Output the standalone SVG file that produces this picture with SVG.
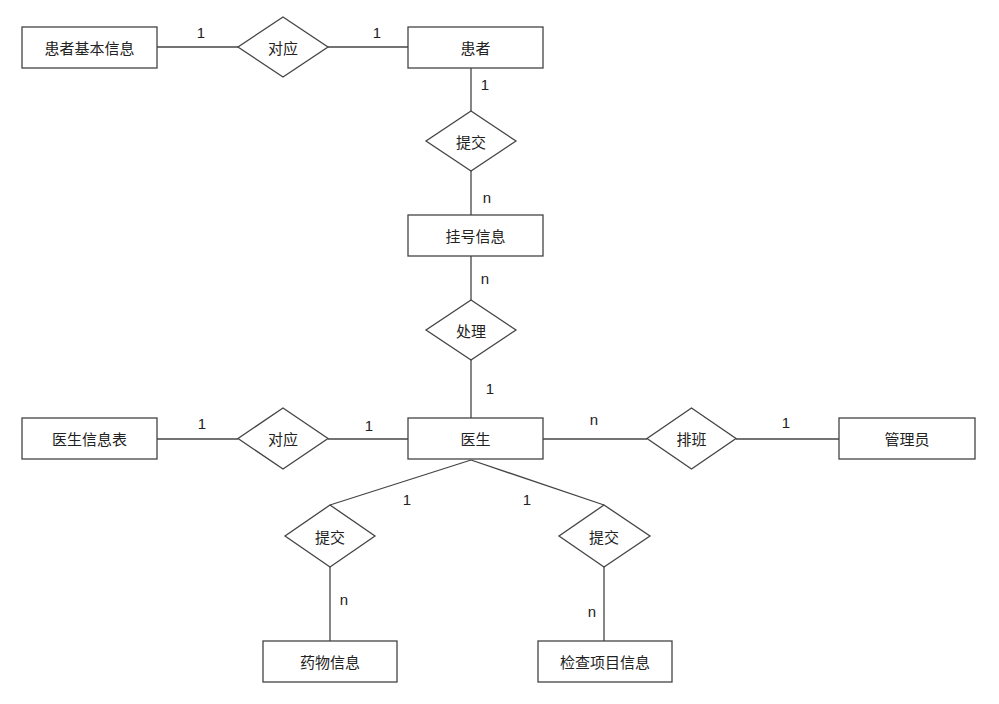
<svg xmlns="http://www.w3.org/2000/svg" width="999" height="704" viewBox="0 0 999 704">
<style>
.box{fill:#fff;stroke:#444;stroke-width:1.3}
.dia{fill:#fff;stroke:#444;stroke-width:1.3}
.ln{fill:none;stroke:#444;stroke-width:1.3}
.t{font-family:"Noto Sans CJK SC","Liberation Sans",sans-serif;font-size:15px;fill:#222;text-anchor:middle;dominant-baseline:central}
.c{font-family:"Liberation Sans","Noto Sans",sans-serif;font-size:15px;fill:#222;text-anchor:middle;dominant-baseline:central}
</style>
<rect width="999" height="704" fill="#fff"/>
<g id="connectors">
<line class="ln" x1="157" y1="47" x2="238" y2="47"/>
<line class="ln" x1="328" y1="47" x2="408" y2="47"/>
<line class="ln" x1="471" y1="68" x2="471" y2="111"/>
<line class="ln" x1="471" y1="171" x2="471" y2="215"/>
<line class="ln" x1="471" y1="256" x2="471" y2="300"/>
<line class="ln" x1="471" y1="360" x2="471" y2="418"/>
<line class="ln" x1="157" y1="439" x2="238" y2="439"/>
<line class="ln" x1="328" y1="439" x2="408" y2="439"/>
<line class="ln" x1="543" y1="439" x2="647" y2="439"/>
<line class="ln" x1="736" y1="439" x2="839" y2="439"/>
<line class="ln" x1="471" y1="460" x2="330" y2="505"/>
<line class="ln" x1="471" y1="460" x2="604" y2="505"/>
<line class="ln" x1="330" y1="567" x2="330" y2="641"/>
<line class="ln" x1="604" y1="567" x2="604" y2="641"/>
<text class="c" x="201" y="32">1</text>
<text class="c" x="377" y="32">1</text>
<text class="c" x="485" y="84">1</text>
<text class="c" x="487" y="197">n</text>
<text class="c" x="485" y="278">n</text>
<text class="c" x="490" y="388">1</text>
<text class="c" x="202" y="423">1</text>
<text class="c" x="369" y="425">1</text>
<text class="c" x="594" y="419">n</text>
<text class="c" x="786" y="422">1</text>
<text class="c" x="407" y="499">1</text>
<text class="c" x="527" y="499">1</text>
<text class="c" x="344" y="599">n</text>
<text class="c" x="592" y="611">n</text>
</g>
<g id="e-huanzhe-info"><rect class="box" x="22" y="27" width="135" height="41"/><text class="t" x="89.5" y="47.5">患者基本信息</text></g>
<g id="r-duiying1"><polygon class="dia" points="283,17 328,47 283,77 238,47"/><text class="t" x="283" y="47">对应</text></g>
<g id="e-huanzhe"><rect class="box" x="408" y="27" width="135" height="41"/><text class="t" x="475.5" y="47.5">患者</text></g>
<g id="r-tijiao1"><polygon class="dia" points="471,111 516,141 471,171 426,141"/><text class="t" x="471" y="141">提交</text></g>
<g id="e-guahao"><rect class="box" x="408" y="215" width="135" height="41"/><text class="t" x="475.5" y="235.5">挂号信息</text></g>
<g id="r-chuli"><polygon class="dia" points="471,300 516,330 471,360 426,330"/><text class="t" x="471" y="330">处理</text></g>
<g id="e-yisheng-info"><rect class="box" x="22" y="418" width="135" height="41"/><text class="t" x="89.5" y="438.5">医生信息表</text></g>
<g id="r-duiying2"><polygon class="dia" points="283,408 328,438.5 283,469 238,438.5"/><text class="t" x="283" y="438.5">对应</text></g>
<g id="e-yisheng"><rect class="box" x="408" y="418" width="135" height="41"/><text class="t" x="475.5" y="438.5">医生</text></g>
<g id="r-paiban"><polygon class="dia" points="691.5,408 736,438.5 691.5,469 647,438.5"/><text class="t" x="691.5" y="438.5">排班</text></g>
<g id="e-guanliyuan"><rect class="box" x="839" y="418" width="136" height="41"/><text class="t" x="907" y="438.5">管理员</text></g>
<g id="r-tijiao2"><polygon class="dia" points="330,505 375,536 330,567 285,536"/><text class="t" x="330" y="536">提交</text></g>
<g id="r-tijiao3"><polygon class="dia" points="604,505 650,536 604,567 559,536"/><text class="t" x="604" y="536">提交</text></g>
<g id="e-yaowu"><rect class="box" x="263" y="641" width="134" height="41"/><text class="t" x="330" y="661.5">药物信息</text></g>
<g id="e-jiancha"><rect class="box" x="538" y="641" width="134" height="41"/><text class="t" x="605" y="661.5">检查项目信息</text></g>
</svg>
